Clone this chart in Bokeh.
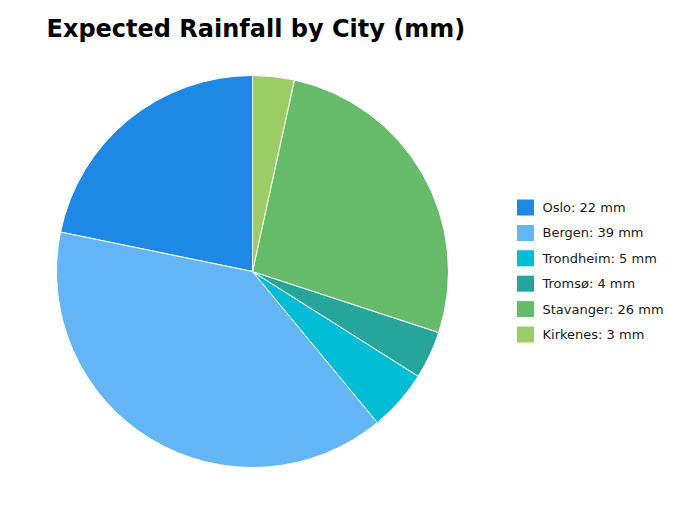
import math
from bokeh.plotting import figure
from bokeh.models import Range1d, ColumnDataSource
from bokeh.core.properties import value
from bokeh.embed import file_html
from bokeh.resources import INLINE

title = "Expected Rainfall by City (mm)"
cities = ["Oslo", "Bergen", "Trondheim", "Tromsø", "Stavanger", "Kirkenes"]
rainfall = [21.6, 38.9, 5.0, 3.9, 26.4, 3.4]
colors = ["#1E88E5", "#64B5F6", "#00BCD4", "#26A69A", "#66BB6A", "#9CCC65"]

W, H = 672, 502
p = figure(width=W, height=H, output_backend="svg", toolbar_location=None,
           x_range=Range1d(0, W), y_range=Range1d(0, H), min_border=0)
p.axis.visible = False
p.grid.visible = False
p.outline_line_color = None
p.background_fill_color = "white"

total = sum(rainfall)
starts, ends = [], []
a = math.pi / 2
for v in rainfall:
    starts.append(a)
    a += v / total * 2 * math.pi
    ends.append(a)

cx, cy, r = 252, H - 271, 196
src = ColumnDataSource(dict(start=starts, end=ends, color=colors))
p.wedge(x=cx, y=cy, radius=r, start_angle="start", end_angle="end",
        direction="anticlock", fill_color="color", line_color="white",
        line_width=1, source=src)

# legend
row0 = H - 207
step = 25.4
ly = [row0 - i * step for i in range(len(cities))]
labels = [f"{c}: {v:.0f} mm" for c, v in zip(cities, rainfall)]
lsrc = ColumnDataSource(dict(y=ly, color=colors, label=labels))
p.rect(x=525, y="y", width=17, height=16, fill_color="color", line_color=None, source=lsrc)
p.text(x=542, y="y", text="label", text_font=value("DejaVu Sans"), text_font_size="13px",
       text_baseline="middle", text_align="left", text_color="#1a1a1a", source=lsrc)

p.text(x=[46], y=[H - 28], text=[title], text_font=value("DejaVu Sans"),
       text_font_size="24px", text_font_style="bold", text_baseline="middle",
       text_align="left", text_color="black")

open("out.html", "w").write(file_html(p, INLINE))
